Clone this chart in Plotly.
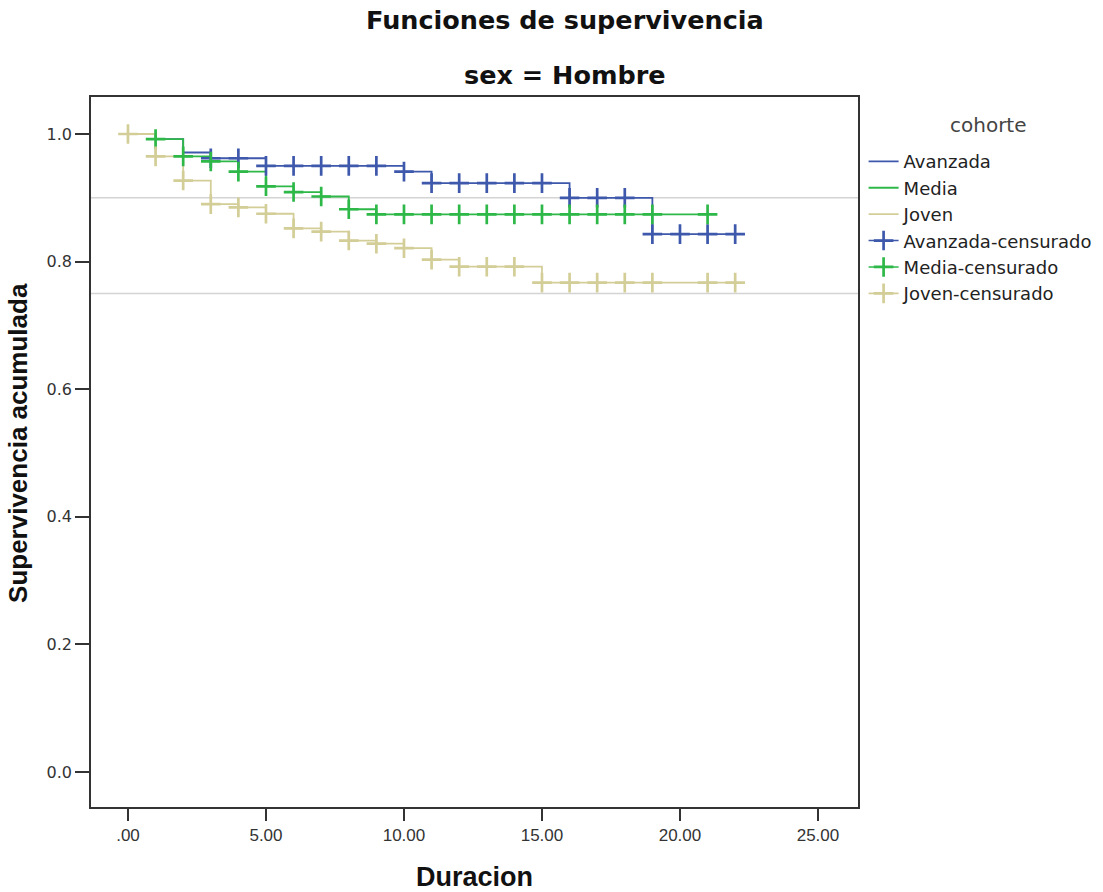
import plotly.graph_objects as go

# Kaplan-Meier step estimates per cohort (sex = Hombre)
avanzada_t = [0, 1, 2, 3, 5, 10, 11, 16, 19, 22]
avanzada_s = [1.0, 0.992, 0.971, 0.962, 0.950, 0.941, 0.923, 0.900, 0.843, 0.843]

media_t = [0, 1, 2, 3, 4, 5, 6, 7, 8, 9, 21]
media_s = [1.0, 0.992, 0.965, 0.957, 0.941, 0.918, 0.909, 0.902, 0.882, 0.874, 0.874]

joven_t = [0, 1, 2, 3, 4, 5, 6, 7, 8, 9, 10, 11, 12, 15, 22]
joven_s = [1.0, 0.965, 0.927, 0.890, 0.885, 0.875, 0.852, 0.847, 0.833, 0.828,
           0.821, 0.803, 0.792, 0.767, 0.767]

# Censoring times per cohort
avanzada_cens = [3, 4, 5, 6, 7, 8, 9, 10, 11, 12, 13, 14, 15, 16, 17, 18, 19, 20, 21, 22]
media_cens = [1, 2, 3, 4, 5, 6, 7, 8, 9, 10, 11, 12, 13, 14, 15, 16, 17, 18, 19, 21]
joven_cens = [0, 1, 2, 3, 4, 5, 6, 7, 8, 9, 10, 11, 12, 13, 14, 15, 16, 17, 18, 19, 21, 22]

# Reference lines
ref_levels = [0.9, 0.75]

x_ticks = [0, 5, 10, 15, 20, 25]
x_ticktext = [".00", "5.00", "10.00", "15.00", "20.00", "25.00"]
y_ticks = [0.0, 0.2, 0.4, 0.6, 0.8, 1.0]

colors = {"Avanzada": "#3E58AC", "Media": "#2EB848", "Joven": "#D3CE97"}


def step_value(times, surv, t):
    """Survival at time t from a right-continuous step function."""
    val = surv[0]
    for ti, si in zip(times, surv):
        if ti <= t:
            val = si
    return val


def separated(xs, ys):
    """Interleave None so markers are drawn without connecting lines."""
    ox, oy = [], []
    for a, b in zip(xs, ys):
        ox += [a, None]
        oy += [b, None]
    return ox, oy


fig = go.Figure()

groups = [
    ("Avanzada", avanzada_t, avanzada_s, avanzada_cens),
    ("Media", media_t, media_s, media_cens),
    ("Joven", joven_t, joven_s, joven_cens),
]

for name, t, s, _ in groups:
    fig.add_trace(go.Scatter(
        x=t, y=s, mode="lines", name=name,
        line=dict(color=colors[name], width=1.8, shape="hv"),
        hoverinfo="skip",
    ))

for name, t, s, cens in groups:
    cy = [step_value(t, s, c) for c in cens]
    cx, cy = separated(cens, cy)
    fig.add_trace(go.Scatter(
        x=cx, y=cy, mode="lines+markers", name=name + "-censurado",
        connectgaps=False,
        line=dict(color=colors[name], width=1.6),
        marker=dict(symbol="cross-thin", size=14,
                    line=dict(color=colors[name], width=2.7)),
        hoverinfo="skip",
    ))

for lvl in ref_levels:
    fig.add_shape(type="line", xref="paper", x0=0, x1=1, yref="y", y0=lvl, y1=lvl,
                  line=dict(color="#d4d4d4", width=1.5), layer="below")

fig.update_xaxes(
    range=[-1.34, 26.45], tickvals=x_ticks, ticktext=x_ticktext,
    ticks="outside", ticklen=12, tickwidth=1.5, tickcolor="#333",
    showline=True, linecolor="#333", linewidth=1.5, mirror=True,
    showgrid=False, zeroline=False,
    tickfont=dict(family="Liberation Sans", size=17, color="#333"),
)
fig.update_yaxes(
    range=[-0.055, 1.058], tickvals=y_ticks, tickformat=".1f",
    ticks="outside", ticklen=14, tickwidth=1.5, tickcolor="#333",
    showline=True, linecolor="#333", linewidth=1.5, mirror=True,
    showgrid=False, zeroline=False,
    tickfont=dict(family="DejaVu Sans", size=16, color="#333"),
)

fig.add_annotation(text="<b>Funciones de supervivencia</b>", xref="paper", yref="paper",
                   x=0.618, y=1.1085, xanchor="center", yanchor="middle", showarrow=False,
                   font=dict(family="DejaVu Sans", size=25.5, color="#111"))
fig.add_annotation(text="<b>sex = Hombre</b>", xref="paper", yref="paper",
                   x=0.618, y=1.031, xanchor="center", yanchor="middle", showarrow=False,
                   font=dict(family="DejaVu Sans", size=25.5, color="#111"))
fig.add_annotation(text="<b>Duracion</b>", xref="paper", yref="paper",
                   x=0.5, y=-0.0986, xanchor="center", yanchor="middle", showarrow=False,
                   font=dict(family="Liberation Sans", size=27, color="#111"))
fig.add_annotation(text="<b>Supervivencia acumulada</b>", xref="paper", yref="paper",
                   x=-0.0952, y=0.5127, xanchor="center", yanchor="middle", showarrow=False,
                   textangle=-90,
                   font=dict(family="Liberation Sans", size=26, color="#111"))
# Legend heading
fig.add_annotation(text="cohorte", xref="paper", yref="paper",
                   x=1.1697, y=0.9605, xanchor="center", yanchor="middle", showarrow=False,
                   font=dict(family="DejaVu Sans", size=20, color="#444"))

fig.update_layout(
    width=1103, height=892,
    margin=dict(l=91, r=245, t=97, b=85, autoexpand=False),
    paper_bgcolor="white", plot_bgcolor="white",
    showlegend=True,
    legend=dict(
        x=1.0073, xanchor="left", y=0.935, yanchor="top",
        font=dict(family="DejaVu Sans", size=18, color="#222"),
        bgcolor="rgba(0,0,0,0)", tracegroupgap=0,
    ),
)

fig.write_html("out.html")
